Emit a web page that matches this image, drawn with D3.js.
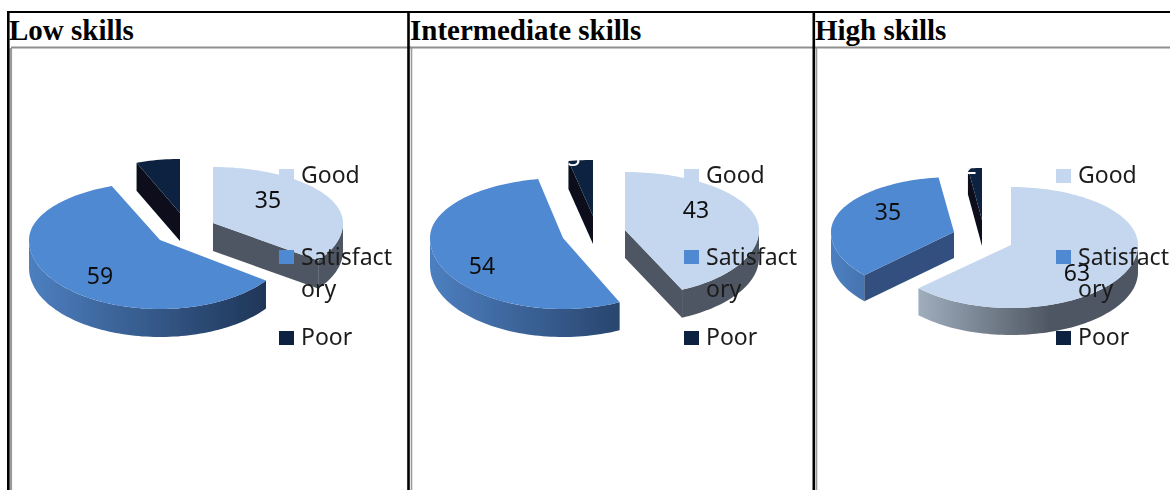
<!DOCTYPE html>
<html><head><meta charset="utf-8">
<script src="https://cdn.jsdelivr.net/npm/d3@7"></script>
<style>html,body{margin:0;padding:0;background:#fff;overflow:hidden}svg{display:block}</style>
</head><body><svg id="c" width="1170" height="490"></svg>
<script>
const categories = ["Good", "Satisfactory", "Poor"];
const panelTitles = ["Low skills", "Intermediate skills", "High skills"];
const lowValues = [35, 59, 6];
const intermediateValues = [43, 54, 3];
const highValues = [63, 35, 2];

const W = 1170, H = 490;
const svg = d3.select("#c");
const defs = svg.append("defs");
defs.append("filter").attr("id","soft").attr("x","-5%").attr("y","-5%").attr("width","110%").attr("height","110%")
  .append("feGaussianBlur").attr("stdDeviation",0.45);

const topColors = ["#c5d7ef", "#5089d2", "#10243f"];
const cutColors = ["#4f5763", "#30507f", "#07101c"];
const wallStops = [
  [[0,"#b4c4d4"],[0.65,"#4f5763"],[1,"#4f5763"]],
  [[0,"#4d7fc0"],[0.9,"#1f3658"],[1,"#1f3658"]],
  [[0,"#10243f"],[1,"#07101c"]]
];

const layouts = [
  { title: 9, swatch: 279, text: 301,
    slices: [
      {cx:213,cy:223,rx:130,back:56,front:64,depth:28,lx:268,ly:199},
      {cx:160,cy:240,rx:131,back:58,front:69,depth:28,lx:100,ly:275},
      {cx:180,cy:213,rx:118,back:54,front:60,depth:28,lx:null,ly:null}
    ]},
  { title: 410, swatch: 684, text: 706,
    slices: [
      {cx:625,cy:230,rx:134,back:58,front:66,depth:28,lx:696,ly:209},
      {cx:563,cy:238,rx:133,back:60,front:71,depth:28,lx:482,ly:265},
      {cx:593,cy:216,rx:131,back:56,front:60,depth:28,lx:574,ly:157}
    ]},
  { title: 815, swatch: 1056, text: 1078,
    slices: [
      {cx:1011,cy:245,rx:127,back:58,front:63,depth:27,lx:1077,ly:272},
      {cx:954,cy:232,rx:123,back:55,front:63,depth:26,lx:888,ly:211},
      {cx:982,cy:220,rx:112,back:52,front:60,depth:26,lx:970,ly:165}
    ]}
];

// grid
const rule = (x1,y1,x2,y2,c,w)=>svg.append("line").attr("x1",x1).attr("y1",y1).attr("x2",x2).attr("y2",y2).attr("stroke",c).attr("stroke-width",w);
rule(11,47.5,W,47.5,"#8f8f8f",2);
rule(0,47.5,8,47.5,"#fff",0);
rule(409,47.5,411,47.5,"#8f8f8f",2);
[10.8,411.5,816.5].forEach(x=>rule(x,48,x,H,"#9a9a9a",x<20?2.6:1.6));
rule(7,12,W,12,"#000",2);
[8.3,408.5,813.8].forEach(x=>rule(x,11,x,H,"#000",2.6));

const pie = d3.pie().sort(null).value(d=>d);

function project(s,a){
  const c = Math.cos(a);
  return [s.cx + s.rx*Math.sin(a), s.cy - (c>0?s.back:s.front)*c];
}
const line = d3.line();

layouts.forEach((lay,pi)=>{
  const values = [lowValues,intermediateValues,highValues][pi];
  const arcs = pie(values);
  svg.append("text").attr("x",lay.title).attr("y",40)
    .attr("font-family","'Liberation Serif',serif").attr("font-weight","bold").attr("font-size",29)
    .attr("fill","#000").text(panelTitles[pi]);

  const clipId = "clip"+pi;
  defs.append("clipPath").attr("id",clipId).append("rect")
    .attr("x",0).attr("y",159).attr("width",W).attr("height",H-159);

  const outer = svg.append("g").attr("filter","url(#soft)");
  const g = outer.append("g").attr("clip-path",`url(#${clipId})`);
  [2,0,1].forEach(i=>{
    const arc = arcs[i], s = lay.slices[i];
    const a0 = arc.startAngle, a1 = arc.endAngle;
    const steps = Math.max(4,Math.ceil((a1-a0)/0.03));
    const rim = d3.range(steps+1).map(k=>a0+(a1-a0)*k/steps).map(a=>project(s,a));
    const centre = [s.cx,s.cy];
    // outer wall (front half only), shaded across the whole pie width
    const wa0 = Math.max(a0,Math.PI/2), wa1 = Math.min(a1,3*Math.PI/2);
    if(wa1>wa0){
      const n = Math.ceil((wa1-wa0)/0.03);
      const wr = d3.range(n+1).map(k=>wa0+(wa1-wa0)*k/n).map(a=>project(s,a));
      const gid = `w${pi}_${i}`;
      const gr = defs.append("linearGradient").attr("id",gid).attr("gradientUnits","userSpaceOnUse")
        .attr("x1",s.cx-s.rx).attr("x2",s.cx+s.rx).attr("y1",0).attr("y2",0);
      wallStops[i].forEach(st=>gr.append("stop").attr("offset",st[0]).attr("stop-color",st[1]));
      const low = wr.map(p=>[p[0],p[1]+s.depth]).reverse();
      g.append("path").attr("d",line(wr.concat(low))+"Z").attr("fill",`url(#${gid})`);
    }
    // cut walls that face the viewer: end edge on the right half, start edge on the left half
    const cuts = [];
    if(a0>Math.PI && a0<2*Math.PI) cuts.push(a0);
    if(a1>0 && a1<Math.PI) cuts.push(a1);
    cuts.forEach(a=>{
      const e = project(s,a);
      const poly = [centre,e,[e[0],e[1]+s.depth],[centre[0],centre[1]+s.depth]];
      g.append("path").attr("d",line(poly)+"Z").attr("fill",cutColors[i]);
    });
    // top face
    g.append("path").attr("d",line([centre].concat(rim))+"Z").attr("fill",topColors[i]);
    // value label
    if(s.lx!==null){
      g.append("text").attr("x",s.lx).attr("y",s.ly).attr("text-anchor","middle").attr("dominant-baseline","central")
        .attr("font-family","'Noto Sans',sans-serif").attr("font-size",23)
        .attr("fill",i===2?"#fff":"#111").text(values[i]);
    }
  });

  // legend
  const legendY = d3.scalePoint().domain(categories).range([169,331]);
  categories.forEach((c,i)=>{
    const y = legendY(c);
    outer.append("rect").attr("x",lay.swatch).attr("y",y).attr("width",15).attr("height",14).attr("fill",topColors[i]);
    const t = outer.append("text").attr("font-family","'Noto Sans',sans-serif").attr("font-size",23).attr("fill","#1c1c1c");
    if(c==="Satisfactory"){
      t.append("tspan").attr("x",lay.text).attr("y",y+15).text("Satisfact");
      t.append("tspan").attr("x",lay.text).attr("y",y+47).text("ory");
    } else {
      t.attr("x",lay.text).attr("y",y+14).text(c);
    }
  });
});
</script></body></html>
